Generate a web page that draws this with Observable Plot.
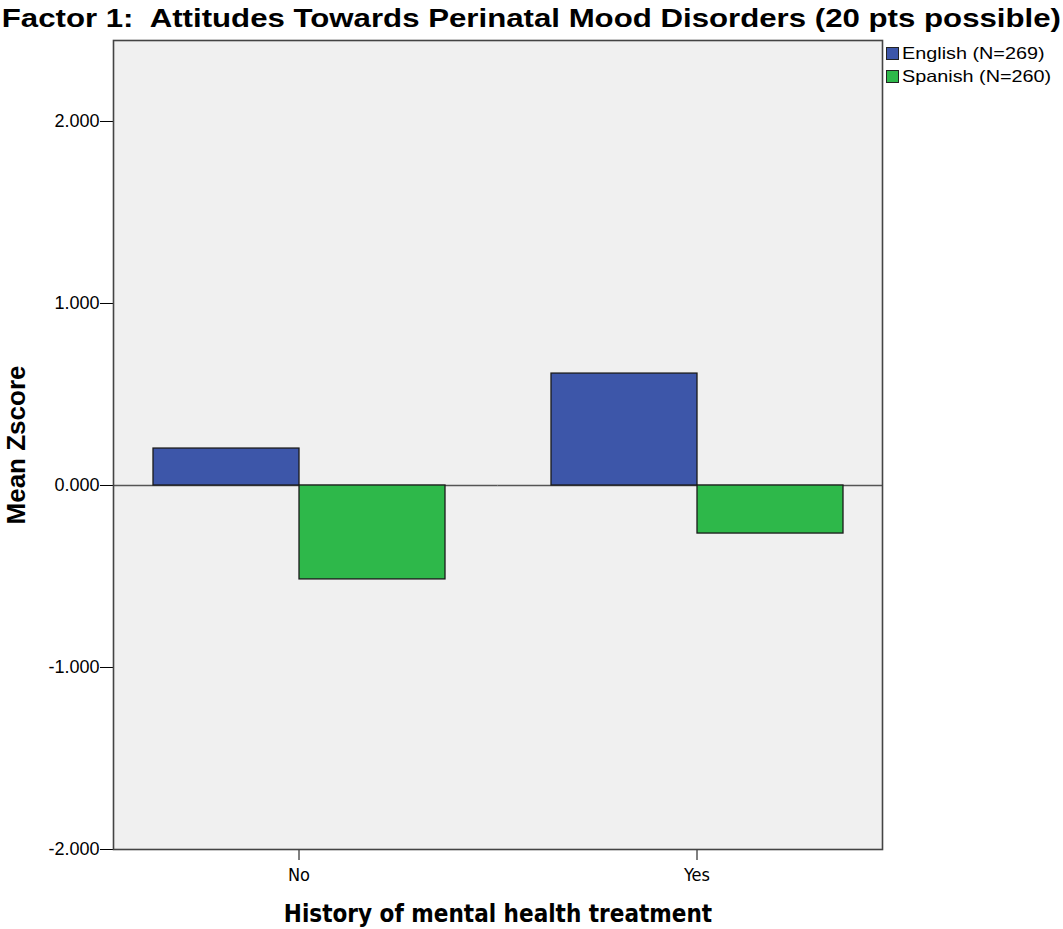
<!DOCTYPE html>
<html><head><meta charset="utf-8">
<script src="https://cdn.jsdelivr.net/npm/d3@7"></script>
<script src="https://cdn.jsdelivr.net/npm/@observablehq/plot@0.6"></script>
<style>
body{margin:0;background:#fff;}
#wrap{position:relative;width:1063px;height:929px;overflow:hidden;}
#title{height:40px;box-sizing:border-box;padding-top:3px;text-align:center;font:bold 26px "Liberation Sans",Arial,sans-serif;line-height:30px;color:#000;white-space:nowrap;}
#title span{display:inline-block;transform:scaleX(1.2);transform-origin:center;}
#legend{position:absolute;left:886px;top:42px;font:16.5px "Liberation Sans",Arial,sans-serif;color:#000;}
#legend .item{display:flex;align-items:center;height:23px;white-space:nowrap;}
#legend .sw{width:13px;height:13px;border:1px solid #222;box-sizing:border-box;margin-right:3px;flex:none;}
#legend .lab{display:inline-block;transform:scaleX(1.2);transform-origin:left center;}
#chart svg g[aria-label="y-axis tick label"] text{font:18px "Liberation Sans",Arial,sans-serif;}
#chart svg g[aria-label="fx-axis tick label"] text{font:18px "DejaVu Sans Condensed","DejaVu Sans",sans-serif;font-stretch:condensed;}
#chart svg g[aria-label="y-axis label"] text{font:bold 26px "Liberation Sans",Arial,sans-serif;}
#chart svg g[aria-label="fx-axis label"] text{font:bold 24px "DejaVu Sans Condensed","DejaVu Sans",sans-serif;font-stretch:condensed;}
</style></head><body>
<div id="wrap">
<div id="title"><span>Factor 1:&nbsp; Attitudes Towards Perinatal Mood Disorders (20 pts possible)</span></div>
<div id="chart"></div>
<div id="legend"></div>
</div>
<script>
const groups = ["No", "Yes"];
const languages = ["English (N=269)", "Spanish (N=260)"];
const englishMeans = [0.203, 0.615];
const spanishMeans = [-0.516, -0.264];
const yTicks = [-2, -1, 0, 1, 2];
const colors = ["#3d56a9", "#2eb84a"];

const data = groups.flatMap((g, i) => [
  {group: g, lang: languages[0], value: englishMeans[i]},
  {group: g, lang: languages[1], value: spanishMeans[i]}
]);

const width = 1063, height = 889;
const marginLeft = 113, marginRight = 181, marginTop = 0, marginBottom = 80;
const fxPadding = 0.068;
// gap between the two facets, so the zero line can be continued across it
const facetStep = (width - marginLeft - marginRight) / (groups.length - fxPadding);
const halfGap = facetStep * fxPadding / 2;

const chart = Plot.plot({
  width, height, marginTop, marginLeft, marginRight, marginBottom,
  style: {fontFamily: "Liberation Sans, Arial, sans-serif", color: "#000", overflow: "visible"},
  fx: {domain: groups, paddingInner: fxPadding, paddingOuter: 0, label: "History of mental health treatment", labelAnchor: "center", labelArrow: "none", labelOffset: 72, tickSize: 11, tickPadding: 8},
  x: {domain: languages, axis: null, paddingInner: 0, paddingOuter: 0.262},
  y: {domain: [-2, 2.445], ticks: yTicks, tickFormat: d => d.toFixed(3), label: "Mean Zscore", labelAnchor: "center", labelArrow: "none", labelOffset: 107, tickSize: 13, tickPadding: 1},
  color: {domain: languages, range: colors},
  marks: [
    Plot.frame({fill: "#f0f0f0", facet: "super"}),
    Plot.ruleY([{group: groups[0]}], {fx: "group", y: 0, stroke: "#555", strokeWidth: 1.5, insetRight: -halfGap}),
    Plot.ruleY([{group: groups[1]}], {fx: "group", y: 0, stroke: "#555", strokeWidth: 1.5, insetLeft: -halfGap}),
    Plot.barY(data, {fx: "group", x: "lang", y: "value", fill: "lang", stroke: "#1a1a1a", strokeWidth: 1.3}),
    Plot.frame({stroke: "#444", strokeWidth: 1.6, facet: "super"})
  ]
});
document.getElementById("chart").appendChild(chart);

const legend = document.getElementById("legend");
languages.forEach((l, i) => {
  const item = document.createElement("div");
  item.className = "item";
  const sw = document.createElement("span");
  sw.className = "sw";
  sw.style.background = colors[i];
  const lab = document.createElement("span");
  lab.className = "lab";
  lab.textContent = l;
  item.appendChild(sw);
  item.appendChild(lab);
  legend.appendChild(item);
});
</script>
</body></html>
